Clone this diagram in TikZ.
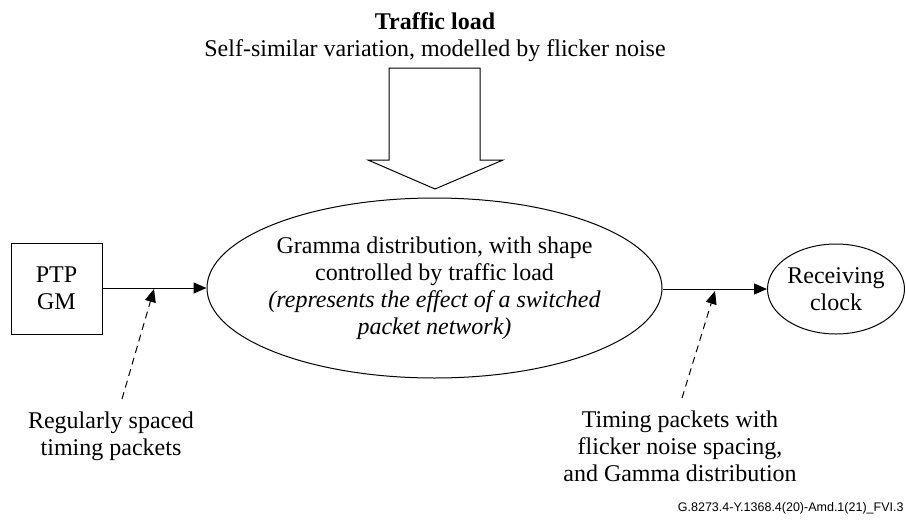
\documentclass[tikz,border=0pt]{standalone}
\usepackage{fontspec}
\setmainfont{Liberation Serif}
\newfontfamily\figsans{Liberation Sans}
\usetikzlibrary{arrows.meta,shapes.geometric}
\tikzstyle{every node}=[font=\fontsize{24}{27}\selectfont, align=center, inner sep=0pt]
\tikzstyle{flow}=[-{Triangle[length=13pt,width=11pt]}, line width=1pt]
\tikzstyle{hint}=[-{Triangle[length=13pt,width=11pt]}, dash pattern=on 7pt off 5pt, line width=1pt]

\begin{document}
\begin{tikzpicture}[x=1pt, y=-1pt, line width=1pt]
\useasboundingbox (0,0) rectangle (906,520);
% Load from above
  \node[anchor=base] (load) at (435,29) {\textbf{Traffic load}};
  \node[anchor=base] (loadtxt) at (435,56) {Self-similar variation, modelled by flicker noise};
  \draw[line join=miter] (389,68) -- (480,68) -- (480,160) -- (503,160) -- (435,189)
      -- (368,160) -- (389,160) -- cycle;
% Blocks
  \node[draw, minimum width=91pt, minimum height=91pt] (gm) at (56.5,288.5) {PTP\\GM};
  \node[draw, ellipse, inner sep=-20pt, minimum width=455pt, minimum height=180pt] (net)
      at (434.5,288)
      {Gramma distribution, with shape\\controlled by traffic load\\
       \textit{(represents the effect of a switched}\\\textit{packet network)}};
  \node[draw, ellipse, inner sep=-8pt, minimum width=137pt, minimum height=90pt] (clock)
      at (836,289) {Receiving\\clock};
% Packet flow
  \draw[flow] (gm.east |- 0,288) -- (net.west);
  \draw[flow] (net.east |- 0,289) -- (clock.west);
  \coordinate (inpkt) at (154,289);
  \coordinate (outpkt) at (715,291);
  \coordinate (r0) at (122,399);
  \coordinate (f0) at (682,398);
% Notes
  \node[anchor=north] (regular) at (111,411) {Regularly spaced\\timing packets};
  \node[anchor=north] (flicker) at (680,410)
      {Timing packets with\\flicker noise spacing,\\and Gamma distribution};
  \draw[hint] (r0) -- (inpkt);
  \draw[hint] (f0) -- (outpkt);
  \node[anchor=base east, font=\figsans\fontsize{12.5}{15}\selectfont] (tag) at (904,511)
      {G.8273.4-Y.1368.4(20)-Amd.1(21)\_FVI.3};
\end{tikzpicture}
\end{document}
